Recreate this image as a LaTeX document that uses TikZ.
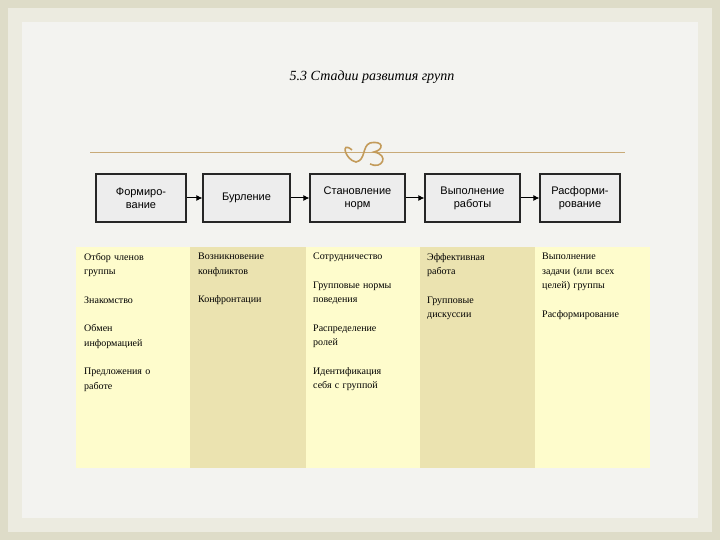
\documentclass[tikz,border=0pt]{standalone}
\usepackage{fontspec}
\setmainfont{Liberation Serif}
\newfontfamily\boxfont{Liberation Sans}
\usetikzlibrary{arrows.meta}
\begin{document}
\begin{tikzpicture}[x=1pt,y=-1pt,
  stage/.style={draw=black!85,line width=1.2pt,fill=black!7,minimum height=48pt,align=center,font=\boxfont\fontsize{11}{13}\selectfont,inner sep=1pt},
  arr/.style={-{Latex[length=6pt,width=6pt]},line width=1pt},
  cell/.style={anchor=north west,align=left,text width=105pt,font=\fontsize{10}{14.5}\selectfont,inner sep=0pt}]
\useasboundingbox (0,0) rectangle (720,540);
\fill[color={rgb,255:red,222;green,220;blue,200}] (0,0) rectangle (720,540);
\fill[color={rgb,255:red,236;green,235;blue,224}] (8,8) rectangle (712,532);
\fill[color={rgb,255:red,243;green,243;blue,240}] (22,22) rectangle (698,518);
\node[font=\itshape\fontsize{14}{16}\selectfont] (title) at (372,77) {5.3 Стадии развития групп};
\draw[color={rgb,255:red,200;green,170;blue,120},line width=0.8pt] (90,152) -- (625,152);
\draw[color={rgb,255:red,195;green,155;blue,90},line width=1.6pt] (352,150) .. controls (340,140) and (345,160) .. (356,162) .. controls (366,160) and (362,146) .. (370,143) .. controls (384,140) and (384,150) .. (374,152) .. controls (390,155) and (382,170) .. (370,164);
\node[stage,minimum width=90pt] (s1) at (141,198) {Формиро-\\вание};
\node[stage,minimum width=87pt] (s2) at (246.5,198) {Бурление};
\node[stage,minimum width=95pt] (s3) at (357.5,198) {Становление\\норм};
\node[stage,minimum width=95pt] (s4) at (472.5,198) {Выполнение\\работы};
\node[stage,minimum width=80pt] (s5) at (580,198) {Расформи-\\рование};
\draw[arr] (s1) -- (s2);
\draw[arr] (s2) -- (s3);
\draw[arr] (s3) -- (s4);
\draw[arr] (s4) -- (s5);
\fill[color={rgb,255:red,254;green,252;blue,204}] (76,247) rectangle (650,468);
\fill[color={rgb,255:red,235;green,227;blue,176}] (190,247) rectangle (306,468);
\fill[color={rgb,255:red,235;green,227;blue,176}] (420,247) rectangle (535,468);
\node[cell] (c1) at (84,253) {Отбор членов\\группы\\[14pt]Знакомство\\[14pt]Обмен\\информацией\\[14pt]Предложения о\\работе};
\node[cell] (c2) at (198,253) {Возникновение\\конфликтов\\[14pt]Конфронтации};
\node[cell] (c3) at (313,253) {Сотрудничество\\[14pt]Групповые нормы\\поведения\\[14pt]Распределение\\ролей\\[14pt]Идентификация\\себя с группой};
\node[cell] (c4) at (427,253) {Эффективная\\работа\\[14pt]Групповые\\дискуссии};
\node[cell] (c5) at (542,253) {Выполнение\\задачи (или всех\\целей) группы\\[14pt]Расформирование};
\end{tikzpicture}
\end{document}
